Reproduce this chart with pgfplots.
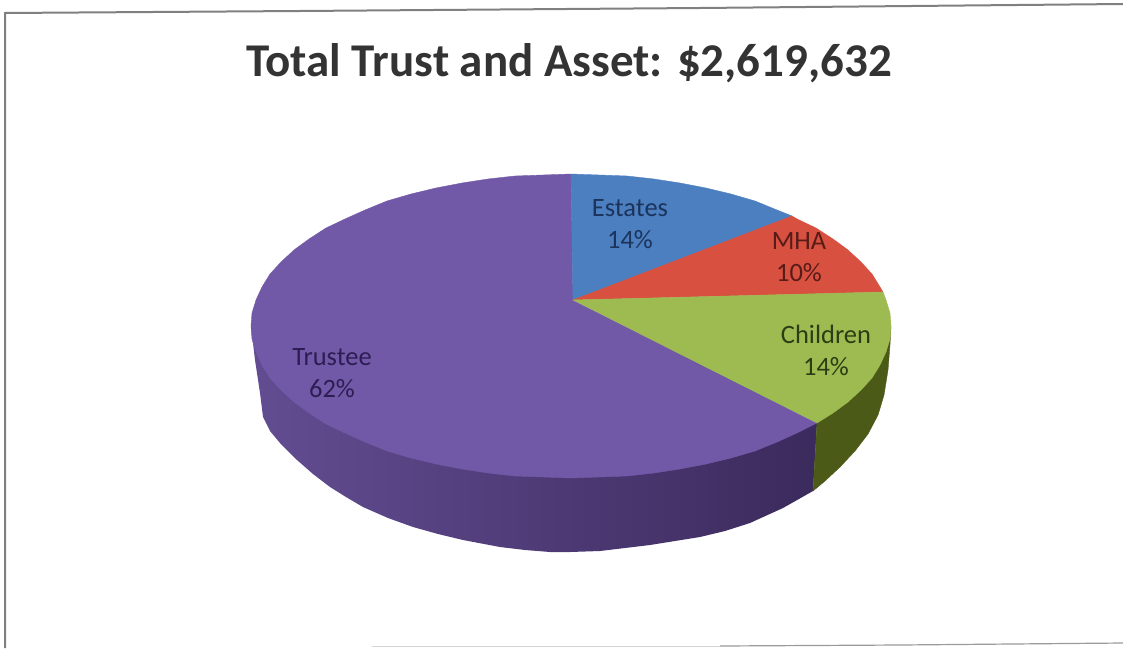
\documentclass[border=0pt]{standalone}
\usepackage{pgfplots}
\usepackage{fontspec}
\setmainfont{Carlito}
\pgfplotsset{compat=1.18}
\definecolor{estates}{HTML}{4C7FC0}
\definecolor{mha}{HTML}{D8503F}
\definecolor{children}{HTML}{9EBB52}
\definecolor{trustee}{HTML}{7259A7}
\definecolor{childside}{HTML}{4C5A18}
\definecolor{frameline}{HTML}{808080}
\definecolor{sideA}{RGB}{99,77,146}
\definecolor{sideD}{RGB}{78,58,118}
\definecolor{sideG}{RGB}{59,42,92}
\definecolor{txtestates}{RGB}{28,52,92}
\definecolor{txtmha}{RGB}{88,28,24}
\definecolor{txtchildren}{RGB}{44,60,20}
\definecolor{txttrustee}{RGB}{44,30,84}
\pgfplotsset{slice/.style={fill=#1,draw=#1,line width=0.4pt}}
\begin{document}
\begin{tikzpicture}
\path[use as bounding box] (0,0) rectangle (1123pt,648pt);
\begin{axis}[
    scale only axis,
    width=1123pt,
    height=648pt,
    xmin=0, xmax=1123,
    ymin=0, ymax=648,
    y dir=reverse,
    hide axis,
  ]
  % page frame, left and top strong, bottom fading out
  \addplot[frameline, line width=2pt] coordinates {(5,648) (5,13) (300,11) (700,8) (1123,4)};
  \addplot[frameline!35, line width=1pt] coordinates {(372,646) (720,646)};
  \addplot[frameline!80, line width=1.2pt] coordinates {(720,646) (900,645) (1123,643)};

  % side wall, trustee, shaded light to dark
  \addplot[draw=none, left color=sideA, middle color=sideD, right color=sideG] coordinates {
    (251,326) (255,360) (260,393) (263,417) (270,431) (280,443) (297,460) (313,474)
    (330,487) (346,497) (363,507) (388,518) (413,527) (438,534) (463,540) (500,547)
    (525,550) (550,552) (570,552) (600,551) (650,545) (700,537) (725,531) (750,523)
    (783,508) (813,491) (817,423) (571,400)
  } --cycle;
  % side wall, children
  \addplot[slice=childside] coordinates {
    (817,423) (813,491) (825,481) (840,467) (855,451) (868,434) (878,415) (884,395)
    (888,370) (890,345) (891,326) (860,330)
  } --cycle;

  % top faces
  \addplot[slice=trustee] coordinates {
    (573,300) (817,423) (797,433) (777,442) (755,451) (731,458) (706,464) (680,469)
    (654,473) (627,476) (599,477) (571,478) (543,477) (515,476) (488,473) (462,469)
    (436,464) (411,458) (387,451) (365,442) (345,433) (326,424) (309,413) (294,402)
    (281,390) (270,378) (262,365) (256,352) (252,339) (251,326) (252,313) (256,300)
    (262,287) (270,274) (281,262) (294,250) (309,239) (326,228) (345,219) (365,210)
    (387,201) (411,194) (436,188) (462,183) (488,179) (515,176) (543,175) (571,174)
  } --cycle;
  \addplot[slice=estates] coordinates {
    (573,300) (571,174) (599,175) (627,176) (654,179) (680,183) (706,188) (731,194)
    (755,201) (777,210) (792,216)
  } --cycle;
  \addplot[slice=mha] coordinates {
    (573,300) (792,216) (797,219) (816,228) (833,239) (848,250) (861,262) (872,274)
    (880,287) (883,292)
  } --cycle;
  \addplot[slice=children] coordinates {
    (573,300) (883,292) (886,300) (890,313) (891,326) (890,339) (886,352) (880,365)
    (872,378) (861,390) (848,402) (833,413) (817,423)
  } --cycle;

  \node[text=black!80, font=\fontsize{47}{54}\selectfont\bfseries] at (axis cs:569,63) {Total Trust and Asset: \$2,619,632};
  \node[align=center, text=txtestates, font=\fontsize{26.5}{32}\selectfont] at (axis cs:630,224) {Estates\\14\%};
  \node[align=center, text=txtmha, font=\fontsize{26.5}{32}\selectfont] at (axis cs:799,257) {MHA\\10\%};
  \node[align=center, text=txtchildren, font=\fontsize{26.5}{32}\selectfont] at (axis cs:826,350) {Children\\14\%};
  \node[align=center, text=txttrustee, font=\fontsize{26.5}{32}\selectfont] at (axis cs:332,373) {Trustee\\62\%};
\end{axis}
\end{tikzpicture}
\end{document}
